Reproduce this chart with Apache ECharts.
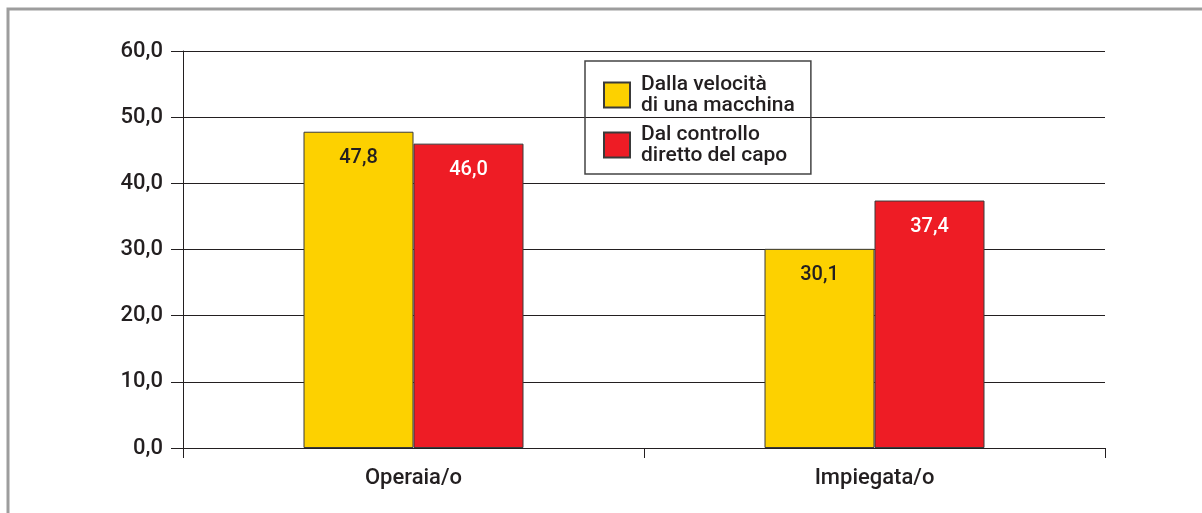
<!DOCTYPE html>
<html>
<head>
<meta charset="utf-8">
<script src="https://cdn.jsdelivr.net/npm/echarts@6/dist/echarts.min.js"></script>
<style>
  html, body { margin: 0; padding: 0; background: #fff; }
  #chart { width: 1202px; height: 513px; }
</style>
</head>
<body>
<div id="chart"></div>
<script>
// dati del grafico
const categorie = ['Operaia/o', 'Impiegata/o'];
const velocitaMacchina = [47.8, 30.1];
const controlloCapo = [46.0, 37.4];
const nomiSerie = ['Dalla velocità\ndi una macchina', 'Dal controllo\ndiretto del capo'];

const font = 'Roboto, Liberation Sans, Arial, sans-serif';
const testo = '#231f20';
const virgola = v => v.toFixed(1).replace('.', ',');

const myChart = echarts.init(document.getElementById('chart'));
myChart.setOption({
  backgroundColor: '#fff',
  animation: false,
  textStyle: { fontFamily: font, fontWeight: 500 },
  graphic: [
    {
      type: 'rect',
      shape: { x: 8, y: 9, width: 1200, height: 510 },
      style: { fill: 'none', stroke: '#9d9d9d', lineWidth: 3 },
      z: -1
    }
  ],
  grid: { left: 183, right: 97, top: 51, bottom: 65 },
  legend: {
    orient: 'vertical',
    left: 585,
    top: 61,
    padding: [13, 16, 8, 18],
    borderColor: '#444',
    borderWidth: 1.5,
    itemWidth: 26,
    itemHeight: 25,
    itemGap: 8,
    icon: 'rect',
    textStyle: {
      fontSize: 21, color: testo, lineHeight: 21, fontFamily: font,
      fontWeight: 500, padding: [0, 0, 0, 6]
    },
    data: nomiSerie
  },
  xAxis: {
    type: 'category',
    data: categorie,
    axisLine: { lineStyle: { color: testo, width: 1 } },
    axisTick: { show: true, length: 10, lineStyle: { color: testo } },
    axisLabel: { fontSize: 22, color: testo, margin: 19, fontWeight: 500 }
  },
  yAxis: {
    type: 'value',
    min: 0,
    max: 60,
    interval: 10,
    axisLine: { show: true, lineStyle: { color: testo, width: 1 } },
    axisTick: { show: true, length: 12, lineStyle: { color: testo } },
    axisLabel: { fontSize: 22, color: testo, margin: 20, fontWeight: 500, formatter: virgola },
    splitLine: { lineStyle: { color: testo, width: 1 } }
  },
  series: [
    {
      name: nomiSerie[0],
      type: 'bar',
      data: velocitaMacchina,
      barWidth: 110,
      barGap: '0%',
      itemStyle: { color: '#fdd100', borderColor: '#3a3a3a', borderWidth: 1 },
      label: {
        show: true, position: 'insideTop', distance: 16,
        fontSize: 20, fontWeight: 500, color: testo, formatter: p => virgola(p.value)
      }
    },
    {
      name: nomiSerie[1],
      type: 'bar',
      data: controlloCapo,
      barWidth: 110,
      barGap: '0%',
      itemStyle: { color: '#ee1c25', borderColor: '#3a3a3a', borderWidth: 1 },
      label: {
        show: true, position: 'insideTop', distance: 16,
        fontSize: 20, fontWeight: 500, color: '#fff', formatter: p => virgola(p.value)
      }
    }
  ]
});
</script>
</body>
</html>
